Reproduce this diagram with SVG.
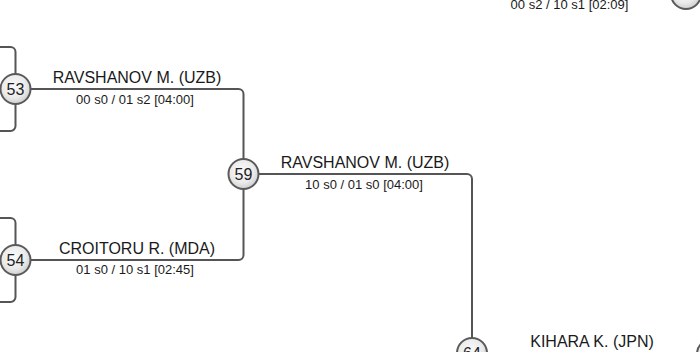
<svg xmlns="http://www.w3.org/2000/svg" width="700" height="352" viewBox="0 0 700 352">
<defs>
<radialGradient id="nodeFill" cx="45%" cy="40%" r="65%">
<stop offset="0" stop-color="#fafafa"/>
<stop offset="0.6" stop-color="#ebebeb"/>
<stop offset="1" stop-color="#c8c8c8"/>
</radialGradient>
</defs>
<style>
.conn{fill:none;stroke:#555;stroke-width:2}
.node circle{fill:url(#nodeFill);stroke:#5a5a5a;stroke-width:2}
.num{font-family:"Liberation Sans",Arial,sans-serif;font-size:16px;fill:#222;text-anchor:middle}
.name{font-family:"Liberation Sans",Arial,sans-serif;font-size:16px;fill:#1a1a1a;text-anchor:middle}
.score{font-family:"Liberation Sans",Arial,sans-serif;font-size:13px;fill:#1a1a1a;text-anchor:middle}
</style>
<rect width="700" height="352" fill="#ffffff"/>
<g id="connectors">
<path class="conn" d="M0,47 H10.5 A5,5 0 0 1 15.5,52 V74"/>
<path class="conn" d="M15.5,104 V126 A5,5 0 0 1 10.5,131 H0"/>
<path class="conn" d="M0,218 H10.5 A5,5 0 0 1 15.5,223 V245"/>
<path class="conn" d="M15.5,275 V297 A5,5 0 0 1 10.5,302 H0"/>
<path class="conn" d="M30.5,89 H238.5 A5,5 0 0 1 243.5,94 V159"/>
<path class="conn" d="M30.5,260 H238.5 A5,5 0 0 0 243.5,255 V189"/>
<path class="conn" d="M258.5,174 H467 A5,5 0 0 1 472,179 V338"/>
<path class="conn" d="M487,353 H696"/>
</g>
<g id="labels">
<text class="name" x="137" y="83">RAVSHANOV M. (UZB)</text>
<text class="score" x="135" y="104">00 s0 / 01 s2 [04:00]</text>
<text class="name" x="137" y="254">CROITORU R. (MDA)</text>
<text class="score" x="135" y="274">01 s0 / 10 s1 [02:45]</text>
<text class="name" x="365" y="168">RAVSHANOV M. (UZB)</text>
<text class="score" x="364" y="189">10 s0 / 01 s0 [04:00]</text>
<text class="name" x="592" y="347">KIHARA K. (JPN)</text>
<text class="score" x="569.5" y="9">00 s2 / 10 s1 [02:09]</text>
</g>
<g id="node53" class="node"><circle cx="15.5" cy="89" r="15"/><text class="num" x="15.5" y="94.7">53</text></g>
<g id="node54" class="node"><circle cx="15.5" cy="260" r="15"/><text class="num" x="15.5" y="265.7">54</text></g>
<g id="node59" class="node"><circle cx="243.5" cy="174" r="15"/><text class="num" x="243.5" y="179.7">59</text></g>
<g id="node64" class="node"><circle cx="472" cy="353" r="15"/><text class="num" x="472" y="358.7">64</text></g>
<g id="nodeTopRight" class="node"><circle cx="686" cy="-6" r="15"/></g>
<g id="nodeBottomRight" class="node"><circle cx="712" cy="354" r="15"/></g>
</svg>
